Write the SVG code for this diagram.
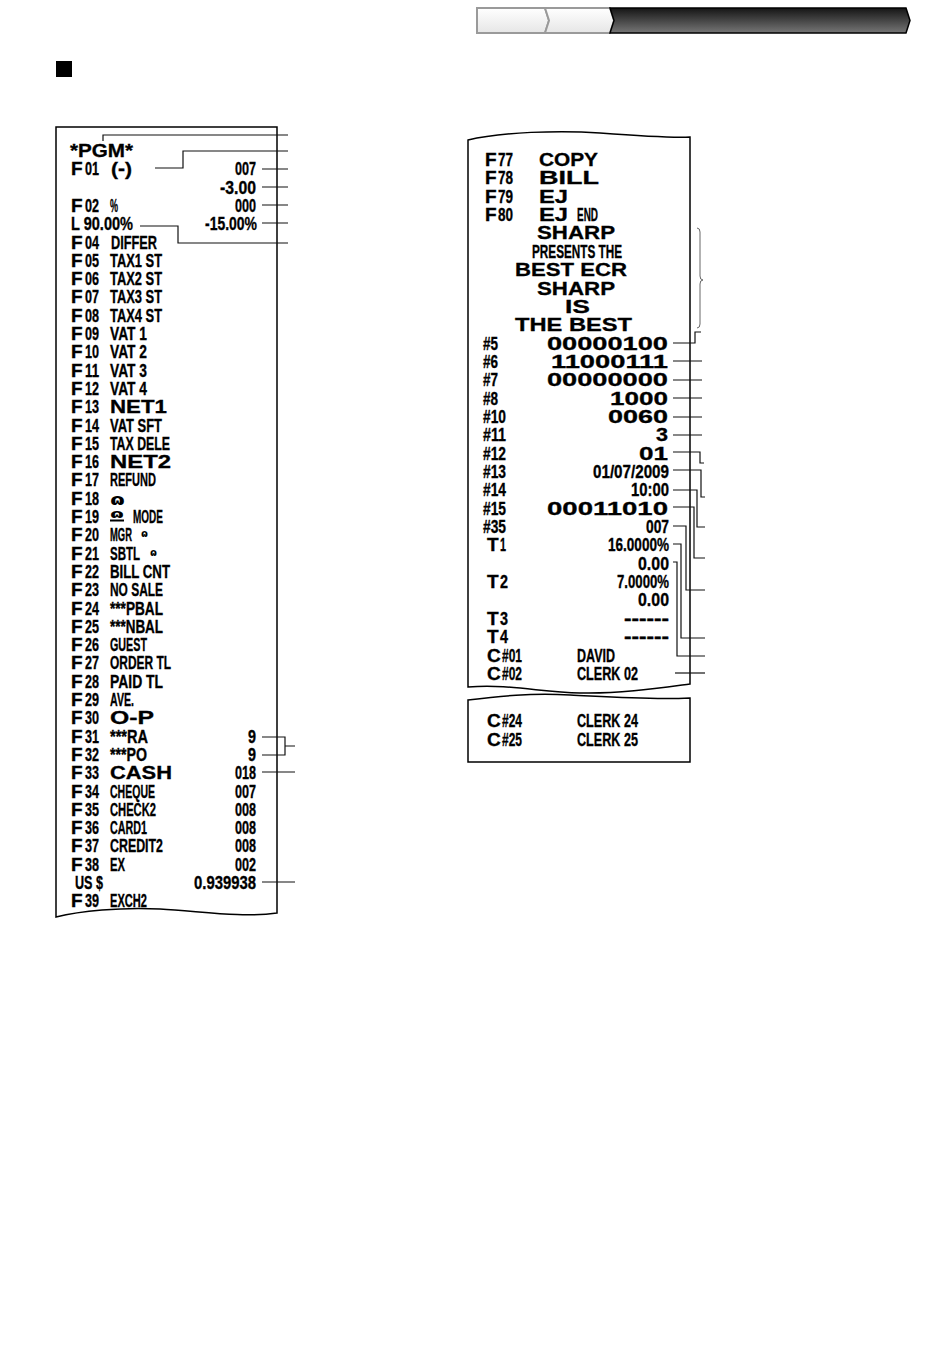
<svg xmlns="http://www.w3.org/2000/svg" width="950" height="1359" viewBox="0 0 950 1359">
<defs>
<linearGradient id="dk" x1="0" y1="0" x2="0" y2="1"><stop offset="0" stop-color="#151515"/><stop offset="1" stop-color="#767676"/></linearGradient>
<linearGradient id="lt" x1="0" y1="0" x2="0" y2="1"><stop offset="0" stop-color="#ffffff"/><stop offset="1" stop-color="#e6e6e6"/></linearGradient>
<style>
.t{font-family:"Liberation Sans",Arial,sans-serif;font-weight:bold;font-size:19px;fill:#000;stroke:#000;stroke-width:0.35}
.w{font-family:"Liberation Sans",Arial,sans-serif;font-weight:bold;font-size:18px;fill:#000;stroke:#000;stroke-width:0.3}
.s{font-family:"DejaVu Sans",sans-serif;font-weight:bold;fill:#000}
.e{text-anchor:end}
.pap{fill:#fff;stroke:#000;stroke-width:1.5}
.ln{fill:none;stroke:#111;stroke-width:1.2}
.br{fill:none;stroke:#666;stroke-width:1}
</style>
</defs>
<rect width="950" height="1359" fill="#fff"/>

<g id="header">
<polygon points="477,8 545,8 549,20.5 545,33 477,33" fill="url(#lt)" stroke="#9a9a9a" stroke-width="2"/>
<polygon points="545,8 610,8 614,20.5 610,33 545,33 549,20.5" fill="url(#lt)" stroke="#9a9a9a" stroke-width="2"/>
<polygon points="610,8 906,8 910,20.5 906,33 610,33 614,20.5" fill="url(#dk)" stroke="#000" stroke-width="1.5"/>
<rect x="56" y="61" width="16" height="16" fill="#000"/>
</g>

<g id="receipt-left">
<path class="pap" d="M56,127H277V913C240,918 200,911 160,909S80,911 56,917Z"/>
<text class="w" x="70" y="157" font-size="17" textLength="63" lengthAdjust="spacingAndGlyphs">*PGM*</text>
<g id="F01"><text class="t" x="71" y="175.3">F</text><text class="t" x="85" y="175.3" textLength="14" lengthAdjust="spacingAndGlyphs">01</text><text class="t" x="111" y="175.3" textLength="21" lengthAdjust="spacingAndGlyphs">(-)</text><text class="t e" x="256" y="175.3" textLength="21" lengthAdjust="spacingAndGlyphs">007</text></g>
<text class="t e" x="256" y="193.6" textLength="36" lengthAdjust="spacingAndGlyphs">-3.00</text>
<g id="F02"><text class="t" x="71" y="211.9">F</text><text class="t" x="85" y="211.9" textLength="14" lengthAdjust="spacingAndGlyphs">02</text><text class="t" x="110" y="211.9" textLength="8" lengthAdjust="spacingAndGlyphs">%</text><text class="t e" x="256" y="211.9" textLength="21" lengthAdjust="spacingAndGlyphs">000</text></g>
<text class="t" x="71" y="230.2" textLength="62" lengthAdjust="spacingAndGlyphs">L 90.00%</text>
<text class="t e" x="257" y="230.2" textLength="52" lengthAdjust="spacingAndGlyphs">-15.00%</text>
<g id="F04"><text class="t" x="71" y="248.5">F</text><text class="t" x="85" y="248.5" textLength="14" lengthAdjust="spacingAndGlyphs">04</text><text class="t" x="111" y="248.5" textLength="46" lengthAdjust="spacingAndGlyphs">DIFFER</text></g>
<g id="F05"><text class="t" x="71" y="266.8">F</text><text class="t" x="85" y="266.8" textLength="14" lengthAdjust="spacingAndGlyphs">05</text><text class="t" x="110" y="266.8" textLength="52" lengthAdjust="spacingAndGlyphs">TAX1 ST</text></g>
<g id="F06"><text class="t" x="71" y="285.1">F</text><text class="t" x="85" y="285.1" textLength="14" lengthAdjust="spacingAndGlyphs">06</text><text class="t" x="110" y="285.1" textLength="52" lengthAdjust="spacingAndGlyphs">TAX2 ST</text></g>
<g id="F07"><text class="t" x="71" y="303.4">F</text><text class="t" x="85" y="303.4" textLength="14" lengthAdjust="spacingAndGlyphs">07</text><text class="t" x="110" y="303.4" textLength="52" lengthAdjust="spacingAndGlyphs">TAX3 ST</text></g>
<g id="F08"><text class="t" x="71" y="321.7">F</text><text class="t" x="85" y="321.7" textLength="14" lengthAdjust="spacingAndGlyphs">08</text><text class="t" x="110" y="321.7" textLength="52" lengthAdjust="spacingAndGlyphs">TAX4 ST</text></g>
<g id="F09"><text class="t" x="71" y="340">F</text><text class="t" x="85" y="340" textLength="14" lengthAdjust="spacingAndGlyphs">09</text><text class="t" x="110" y="340" textLength="37" lengthAdjust="spacingAndGlyphs">VAT 1</text></g>
<g id="F10"><text class="t" x="71" y="358.3">F</text><text class="t" x="85" y="358.3" textLength="14" lengthAdjust="spacingAndGlyphs">10</text><text class="t" x="110" y="358.3" textLength="37" lengthAdjust="spacingAndGlyphs">VAT 2</text></g>
<g id="F11"><text class="t" x="71" y="376.6">F</text><text class="t" x="85" y="376.6" textLength="14" lengthAdjust="spacingAndGlyphs">11</text><text class="t" x="110" y="376.6" textLength="37" lengthAdjust="spacingAndGlyphs">VAT 3</text></g>
<g id="F12"><text class="t" x="71" y="394.9">F</text><text class="t" x="85" y="394.9" textLength="14" lengthAdjust="spacingAndGlyphs">12</text><text class="t" x="110" y="394.9" textLength="37" lengthAdjust="spacingAndGlyphs">VAT 4</text></g>
<g id="F13"><text class="t" x="71" y="413.2">F</text><text class="t" x="85" y="413.2" textLength="14" lengthAdjust="spacingAndGlyphs">13</text><text class="w" x="110" y="413.2" textLength="57" lengthAdjust="spacingAndGlyphs">NET1</text></g>
<g id="F14"><text class="t" x="71" y="431.5">F</text><text class="t" x="85" y="431.5" textLength="14" lengthAdjust="spacingAndGlyphs">14</text><text class="t" x="110" y="431.5" textLength="52" lengthAdjust="spacingAndGlyphs">VAT SFT</text></g>
<g id="F15"><text class="t" x="71" y="449.8">F</text><text class="t" x="85" y="449.8" textLength="14" lengthAdjust="spacingAndGlyphs">15</text><text class="t" x="110" y="449.8" textLength="60" lengthAdjust="spacingAndGlyphs">TAX DELE</text></g>
<g id="F16"><text class="t" x="71" y="468.1">F</text><text class="t" x="85" y="468.1" textLength="14" lengthAdjust="spacingAndGlyphs">16</text><text class="w" x="110" y="468.1" textLength="61" lengthAdjust="spacingAndGlyphs">NET2</text></g>
<g id="F17"><text class="t" x="71" y="486.4">F</text><text class="t" x="85" y="486.4" textLength="14" lengthAdjust="spacingAndGlyphs">17</text><text class="t" x="110" y="486.4" textLength="46" lengthAdjust="spacingAndGlyphs">REFUND</text></g>
<g id="F18"><text class="t" x="71" y="504.7">F</text><text class="t" x="85" y="504.7" textLength="14" lengthAdjust="spacingAndGlyphs">18</text><text class="s" x="110" y="505" font-size="16" textLength="15" lengthAdjust="spacingAndGlyphs">ɷ</text></g>
<g id="F19"><text class="t" x="71" y="523">F</text><text class="t" x="85" y="523" textLength="14" lengthAdjust="spacingAndGlyphs">19</text><text class="s" x="110" y="517.5" font-size="12" textLength="14" lengthAdjust="spacingAndGlyphs">ɷ</text><rect x="110" y="519.5" width="14" height="2" fill="#000"/><text class="t" x="133" y="523" textLength="30" lengthAdjust="spacingAndGlyphs">MODE</text></g>
<g id="F20"><text class="t" x="71" y="541.3">F</text><text class="t" x="85" y="541.3" textLength="14" lengthAdjust="spacingAndGlyphs">20</text><text class="t" x="110" y="541.3" textLength="22" lengthAdjust="spacingAndGlyphs">MGR</text><text class="s" x="141" y="537" font-size="11" textLength="7" lengthAdjust="spacingAndGlyphs">ɷ</text></g>
<g id="F21"><text class="t" x="71" y="559.6">F</text><text class="t" x="85" y="559.6" textLength="14" lengthAdjust="spacingAndGlyphs">21</text><text class="t" x="110" y="559.6" textLength="30" lengthAdjust="spacingAndGlyphs">SBTL</text><text class="s" x="150" y="555.5" font-size="11" textLength="7" lengthAdjust="spacingAndGlyphs">ɷ</text></g>
<g id="F22"><text class="t" x="71" y="577.9">F</text><text class="t" x="85" y="577.9" textLength="14" lengthAdjust="spacingAndGlyphs">22</text><text class="t" x="110" y="577.9" textLength="60" lengthAdjust="spacingAndGlyphs">BILL CNT</text></g>
<g id="F23"><text class="t" x="71" y="596.2">F</text><text class="t" x="85" y="596.2" textLength="14" lengthAdjust="spacingAndGlyphs">23</text><text class="t" x="110" y="596.2" textLength="53" lengthAdjust="spacingAndGlyphs">NO SALE</text></g>
<g id="F24"><text class="t" x="71" y="614.5">F</text><text class="t" x="85" y="614.5" textLength="14" lengthAdjust="spacingAndGlyphs">24</text><text class="t" x="110" y="614.5" textLength="53" lengthAdjust="spacingAndGlyphs">***PBAL</text></g>
<g id="F25"><text class="t" x="71" y="632.8">F</text><text class="t" x="85" y="632.8" textLength="14" lengthAdjust="spacingAndGlyphs">25</text><text class="t" x="110" y="632.8" textLength="53" lengthAdjust="spacingAndGlyphs">***NBAL</text></g>
<g id="F26"><text class="t" x="71" y="651.1">F</text><text class="t" x="85" y="651.1" textLength="14" lengthAdjust="spacingAndGlyphs">26</text><text class="t" x="110" y="651.1" textLength="37" lengthAdjust="spacingAndGlyphs">GUEST</text></g>
<g id="F27"><text class="t" x="71" y="669.4">F</text><text class="t" x="85" y="669.4" textLength="14" lengthAdjust="spacingAndGlyphs">27</text><text class="t" x="110" y="669.4" textLength="61" lengthAdjust="spacingAndGlyphs">ORDER TL</text></g>
<g id="F28"><text class="t" x="71" y="687.7">F</text><text class="t" x="85" y="687.7" textLength="14" lengthAdjust="spacingAndGlyphs">28</text><text class="t" x="110" y="687.7" textLength="53" lengthAdjust="spacingAndGlyphs">PAID TL</text></g>
<g id="F29"><text class="t" x="71" y="706">F</text><text class="t" x="85" y="706" textLength="14" lengthAdjust="spacingAndGlyphs">29</text><text class="t" x="110" y="706" textLength="24" lengthAdjust="spacingAndGlyphs">AVE.</text></g>
<g id="F30"><text class="t" x="71" y="724.3">F</text><text class="t" x="85" y="724.3" textLength="14" lengthAdjust="spacingAndGlyphs">30</text><text class="w" x="110" y="724.3" textLength="44" lengthAdjust="spacingAndGlyphs">O-P</text></g>
<g id="F31"><text class="t" x="71" y="742.6">F</text><text class="t" x="85" y="742.6" textLength="14" lengthAdjust="spacingAndGlyphs">31</text><text class="t" x="110" y="742.6" textLength="38" lengthAdjust="spacingAndGlyphs">***RA</text><text class="t e" x="256" y="742.6" textLength="8" lengthAdjust="spacingAndGlyphs">9</text></g>
<g id="F32"><text class="t" x="71" y="760.9">F</text><text class="t" x="85" y="760.9" textLength="14" lengthAdjust="spacingAndGlyphs">32</text><text class="t" x="110" y="760.9" textLength="37" lengthAdjust="spacingAndGlyphs">***PO</text><text class="t e" x="256" y="760.9" textLength="8" lengthAdjust="spacingAndGlyphs">9</text></g>
<g id="F33"><text class="t" x="71" y="779.2">F</text><text class="t" x="85" y="779.2" textLength="14" lengthAdjust="spacingAndGlyphs">33</text><text class="w" x="110" y="779.2" textLength="62" lengthAdjust="spacingAndGlyphs">CASH</text><text class="t e" x="256" y="779.2" textLength="21" lengthAdjust="spacingAndGlyphs">018</text></g>
<g id="F34"><text class="t" x="71" y="797.5">F</text><text class="t" x="85" y="797.5" textLength="14" lengthAdjust="spacingAndGlyphs">34</text><text class="t" x="110" y="797.5" textLength="45" lengthAdjust="spacingAndGlyphs">CHEQUE</text><text class="t e" x="256" y="797.5" textLength="21" lengthAdjust="spacingAndGlyphs">007</text></g>
<g id="F35"><text class="t" x="71" y="815.8">F</text><text class="t" x="85" y="815.8" textLength="14" lengthAdjust="spacingAndGlyphs">35</text><text class="t" x="110" y="815.8" textLength="46" lengthAdjust="spacingAndGlyphs">CHECK2</text><text class="t e" x="256" y="815.8" textLength="21" lengthAdjust="spacingAndGlyphs">008</text></g>
<g id="F36"><text class="t" x="71" y="834.1">F</text><text class="t" x="85" y="834.1" textLength="14" lengthAdjust="spacingAndGlyphs">36</text><text class="t" x="110" y="834.1" textLength="37" lengthAdjust="spacingAndGlyphs">CARD1</text><text class="t e" x="256" y="834.1" textLength="21" lengthAdjust="spacingAndGlyphs">008</text></g>
<g id="F37"><text class="t" x="71" y="852.4">F</text><text class="t" x="85" y="852.4" textLength="14" lengthAdjust="spacingAndGlyphs">37</text><text class="t" x="110" y="852.4" textLength="53" lengthAdjust="spacingAndGlyphs">CREDIT2</text><text class="t e" x="256" y="852.4" textLength="21" lengthAdjust="spacingAndGlyphs">008</text></g>
<g id="F38"><text class="t" x="71" y="870.7">F</text><text class="t" x="85" y="870.7" textLength="14" lengthAdjust="spacingAndGlyphs">38</text><text class="t" x="110" y="870.7" textLength="15" lengthAdjust="spacingAndGlyphs">EX</text><text class="t e" x="256" y="870.7" textLength="21" lengthAdjust="spacingAndGlyphs">002</text></g>
<g id="US"><text class="t" x="75" y="889" textLength="28" lengthAdjust="spacingAndGlyphs">US $</text><text class="t e" x="256" y="889" textLength="62" lengthAdjust="spacingAndGlyphs">0.939938</text></g>
<g id="F39"><text class="t" x="71" y="907.3">F</text><text class="t" x="85" y="907.3" textLength="14" lengthAdjust="spacingAndGlyphs">39</text><text class="t" x="110" y="907.3" textLength="37" lengthAdjust="spacingAndGlyphs">EXCH2</text></g>
</g>

<g id="receipt-right">
<path class="pap" d="M468,140C500,132 560,130 600,133S670,138 690,137V684C660,688 620,694 580,693S510,684 468,687Z"/>
<g id="F77"><text class="t" x="485" y="166">F</text><text class="t" x="498" y="166" textLength="15" lengthAdjust="spacingAndGlyphs">77</text><text class="w" x="539" y="166" textLength="59" lengthAdjust="spacingAndGlyphs">COPY</text></g>
<g id="F78"><text class="t" x="485" y="184.4">F</text><text class="t" x="498" y="184.4" textLength="15" lengthAdjust="spacingAndGlyphs">78</text><text class="w" x="539" y="184.4" textLength="60" lengthAdjust="spacingAndGlyphs">BILL</text></g>
<g id="F79"><text class="t" x="485" y="202.7">F</text><text class="t" x="498" y="202.7" textLength="15" lengthAdjust="spacingAndGlyphs">79</text><text class="w" x="539" y="202.7" textLength="29" lengthAdjust="spacingAndGlyphs">EJ</text></g>
<g id="F80"><text class="t" x="485" y="221">F</text><text class="t" x="498" y="221" textLength="15" lengthAdjust="spacingAndGlyphs">80</text><text class="w" x="539" y="221" textLength="29" lengthAdjust="spacingAndGlyphs">EJ</text><text class="t" x="577" y="221" font-size="15" textLength="21" lengthAdjust="spacingAndGlyphs">END</text></g>
<g id="message">
<text class="w" x="537" y="239.4" textLength="78" lengthAdjust="spacingAndGlyphs">SHARP</text>
<text class="t" x="532" y="257.8" font-size="17" textLength="90" lengthAdjust="spacingAndGlyphs">PRESENTS THE</text>
<text class="w" x="515" y="276.1" textLength="112" lengthAdjust="spacingAndGlyphs">BEST ECR</text>
<text class="w" x="537" y="294.5" textLength="78" lengthAdjust="spacingAndGlyphs">SHARP</text>
<text class="w" x="565" y="312.8" textLength="25" lengthAdjust="spacingAndGlyphs">IS</text>
<text class="w" x="515" y="331.2" textLength="117" lengthAdjust="spacingAndGlyphs">THE BEST</text>
</g>
<g id="P5"><text class="t" x="483" y="349.5" textLength="15" lengthAdjust="spacingAndGlyphs">#5</text><text class="w e" x="668" y="349.5" font-size="17" textLength="121" lengthAdjust="spacingAndGlyphs">00000100</text></g>
<g id="P6"><text class="t" x="483" y="367.9" textLength="15" lengthAdjust="spacingAndGlyphs">#6</text><text class="w e" x="668" y="367.9" font-size="17" textLength="117" lengthAdjust="spacingAndGlyphs">11000111</text></g>
<g id="P7"><text class="t" x="483" y="386.2" textLength="15" lengthAdjust="spacingAndGlyphs">#7</text><text class="w e" x="668" y="386.2" font-size="17" textLength="121" lengthAdjust="spacingAndGlyphs">00000000</text></g>
<g id="P8"><text class="t" x="483" y="404.6" textLength="15" lengthAdjust="spacingAndGlyphs">#8</text><text class="w e" x="668" y="404.6" font-size="17" textLength="58" lengthAdjust="spacingAndGlyphs">1000</text></g>
<g id="P10"><text class="t" x="483" y="422.9" textLength="23" lengthAdjust="spacingAndGlyphs">#10</text><text class="w e" x="668" y="422.9" font-size="17" textLength="60" lengthAdjust="spacingAndGlyphs">0060</text></g>
<g id="P11"><text class="t" x="483" y="441.3" textLength="23" lengthAdjust="spacingAndGlyphs">#11</text><text class="w e" x="668" y="441.3" font-size="17" textLength="12" lengthAdjust="spacingAndGlyphs">3</text></g>
<g id="P12"><text class="t" x="483" y="459.6" textLength="23" lengthAdjust="spacingAndGlyphs">#12</text><text class="w e" x="668" y="459.6" font-size="17" textLength="29" lengthAdjust="spacingAndGlyphs">01</text></g>
<g id="P13"><text class="t" x="483" y="478" textLength="23" lengthAdjust="spacingAndGlyphs">#13</text><text class="t e" x="669" y="478" textLength="76" lengthAdjust="spacingAndGlyphs">01/07/2009</text></g>
<g id="P14"><text class="t" x="483" y="496.3" textLength="23" lengthAdjust="spacingAndGlyphs">#14</text><text class="t e" x="669" y="496.3" textLength="38" lengthAdjust="spacingAndGlyphs">10:00</text></g>
<g id="P15"><text class="t" x="483" y="514.7" textLength="23" lengthAdjust="spacingAndGlyphs">#15</text><text class="w e" x="668" y="514.7" font-size="17" textLength="121" lengthAdjust="spacingAndGlyphs">00011010</text></g>
<g id="P35"><text class="t" x="483" y="533" textLength="23" lengthAdjust="spacingAndGlyphs">#35</text><text class="t e" x="669" y="533" textLength="23" lengthAdjust="spacingAndGlyphs">007</text></g>
<g id="T1"><text class="t" x="487" y="551.4">T</text><text class="t" x="500" y="551.4" textLength="6" lengthAdjust="spacingAndGlyphs">1</text><text class="t e" x="669" y="551.4" textLength="61" lengthAdjust="spacingAndGlyphs">16.0000%</text><text class="t e" x="669" y="569.7" textLength="31" lengthAdjust="spacingAndGlyphs">0.00</text></g>
<g id="T2"><text class="t" x="487" y="588.1">T</text><text class="t" x="500" y="588.1" textLength="8" lengthAdjust="spacingAndGlyphs">2</text><text class="t e" x="669" y="588.1" textLength="52" lengthAdjust="spacingAndGlyphs">7.0000%</text><text class="t e" x="669" y="606.4" textLength="31" lengthAdjust="spacingAndGlyphs">0.00</text></g>
<g id="T3"><text class="t" x="487" y="624.8">T</text><text class="t" x="500" y="624.8" textLength="8" lengthAdjust="spacingAndGlyphs">3</text><text class="t e" x="669" y="624.8" textLength="45" lengthAdjust="spacingAndGlyphs">------</text></g>
<g id="T4"><text class="t" x="487" y="643.1">T</text><text class="t" x="500" y="643.1" textLength="8" lengthAdjust="spacingAndGlyphs">4</text><text class="t e" x="669" y="643.1" textLength="45" lengthAdjust="spacingAndGlyphs">------</text></g>
<g id="C01"><text class="t" x="487" y="661.5">C</text><text class="t" x="502" y="661.5" textLength="20" lengthAdjust="spacingAndGlyphs">#01</text><text class="t" x="577" y="661.5" textLength="38" lengthAdjust="spacingAndGlyphs">DAVID</text></g>
<g id="C02"><text class="t" x="487" y="679.8">C</text><text class="t" x="502" y="679.8" textLength="20" lengthAdjust="spacingAndGlyphs">#02</text><text class="t" x="577" y="679.8" textLength="61" lengthAdjust="spacingAndGlyphs">CLERK 02</text></g>
</g>

<g id="receipt-right-cont">
<path class="pap" d="M468,700C500,696 530,693 570,695S650,700 690,698V762H468Z"/>
<g id="C24"><text class="t" x="487" y="727">C</text><text class="t" x="502" y="727" textLength="20" lengthAdjust="spacingAndGlyphs">#24</text><text class="t" x="577" y="727" textLength="61" lengthAdjust="spacingAndGlyphs">CLERK 24</text></g>
<g id="C25"><text class="t" x="487" y="745.5">C</text><text class="t" x="502" y="745.5" textLength="20" lengthAdjust="spacingAndGlyphs">#25</text><text class="t" x="577" y="745.5" textLength="61" lengthAdjust="spacingAndGlyphs">CLERK 25</text></g>
</g>

<g id="connectors">
<path class="ln" d="M103,141V135H288"/>
<path class="ln" d="M155,168H183V151H288"/>
<path class="ln" d="M262,169H288M262,187H288M262,205H288M262,223H288"/>
<path class="ln" d="M140,226H178V243H288"/>
<path class="ln" d="M262,737H285V755H262M285,746H295"/>
<path class="ln" d="M262,772H295M262,882H295"/>
<path class="br" d="M697,228Q700,228 700,232V276Q700,280 703,280Q700,280 700,284V324Q700,328 697,328"/>
<path class="ln" d="M673,343H695V332H701"/>
<path class="ln" d="M673,361H702M673,380H702M673,398H702M673,417H702M673,435H702"/>
<path class="ln" d="M673,452H700V463H704"/>
<path class="ln" d="M673,470H701V497H705"/>
<path class="ln" d="M673,490H697V527H705"/>
<path class="ln" d="M673,507H694V558H705"/>
<path class="ln" d="M673,526H686V590H705"/>
<path class="ln" d="M673,544H681V638H705"/>
<path class="ln" d="M673,562H677V656H705"/>
<path class="ln" d="M675,673H705"/>
</g>
</svg>
